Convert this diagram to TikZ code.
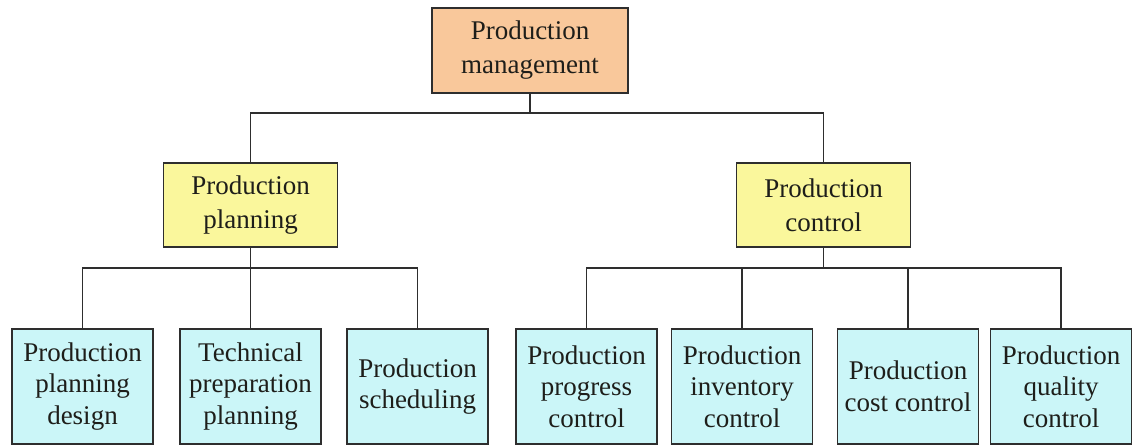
\documentclass[tikz,border=0pt]{standalone}
\usepackage{fontspec}
\setmainfont{Liberation Serif}
\begin{document}
\begin{tikzpicture}[x=1pt,y=1pt,
  box/.style={draw=linec, line width=1.8pt, align=center, inner sep=0pt, text=textc},
  topbox/.style={box, fill=orangec, minimum width=196, minimum height=85, font=\fontsize{27}{34}\selectfont},
  midbox/.style={box, fill=yellowc, minimum width=174, minimum height=84, font=\fontsize{27}{34}\selectfont},
  leafbox/.style={box, fill=cyanc, minimum width=141, minimum height=115, font=\fontsize{27}{31.5}\selectfont},
  conn/.style={draw=linec, line width=1.8pt}]
\definecolor{linec}{HTML}{2E2E2E}
\definecolor{textc}{HTML}{1E1E1A}
\definecolor{orangec}{HTML}{F9C89B}
\definecolor{yellowc}{HTML}{FAF79C}
\definecolor{cyanc}{HTML}{CBF6F8}
\useasboundingbox (0,0) rectangle (1133,-445);
\node[topbox] (top) at (530,-50.5) {Production\\management};
\node[midbox] (pp) at (250.5,-205) {Production\\planning};
\node[midbox] (pc) at (823.5,-205) {Production\\control};
\node[leafbox] (b1) at (82.5,-386.5) {Production\\planning\\design};
\node[leafbox] (b2) at (250.5,-386.5) {Technical\\preparation\\planning};
\node[leafbox] (b3) at (417.5,-386.5) {Production\\scheduling};
\node[leafbox] (b4) at (586.5,-386.5) {Production\\progress\\control};
\node[leafbox] (b5) at (742,-386.5) {Production\\inventory\\control};
\node[leafbox] (b6) at (908,-386.5) {Production\\cost control};
\node[leafbox] (b7) at (1061,-386.5) {Production\\quality\\control};
\coordinate (j1) at (530,-113);
\coordinate (j2) at (250.5,-268);
\coordinate (j3) at (823.5,-268);
\draw[conn] (top.south) -- (j1);
\draw[conn] (pp.north) |- (j1) -| (pc.north);
\draw[conn] (pp.south) -- (j2);
\draw[conn] (b1.north) |- (j2) -| (b3.north);
\draw[conn] (b2.north) -- (j2);
\draw[conn] (pc.south) -- (j3);
\draw[conn] (b4.north) |- (j3) -| (b7.north);
\draw[conn] (b5.north) |- (j3);
\draw[conn] (b6.north) |- (j3);
\end{tikzpicture}
\end{document}
